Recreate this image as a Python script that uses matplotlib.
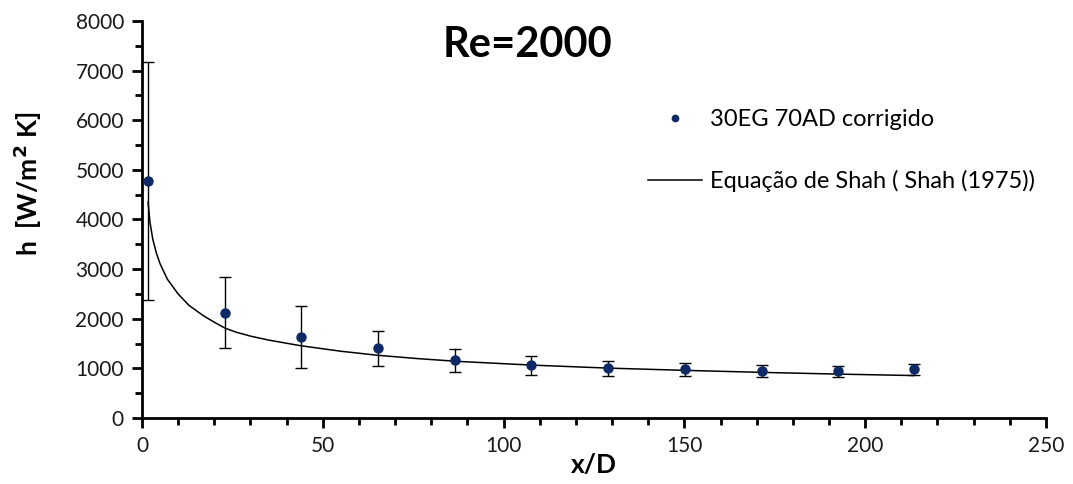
import matplotlib
matplotlib.use("Agg")
import matplotlib.pyplot as plt
from matplotlib.ticker import MultipleLocator

plt.rcParams['font.family'] = ['Lato', 'DejaVu Sans']

# measured points (30EG 70AD corrigido)
x_pts = [1.7, 23.0, 44.0, 65.3, 86.6, 107.6, 129.0, 150.2, 171.4, 192.4, 213.5]
h_pts = [4780, 2120, 1633, 1405, 1169, 1069, 1002, 982, 954, 941, 988]
h_top = [7170, 2845, 2258, 1754, 1397, 1250, 1149, 1102, 1075, 1055, 1095]
h_bot = [2380, 1410, 1008, 1055, 927, 873, 840, 853, 827, 821, 873]

# Shah (1975) curve
x_shah = [1.7, 2.2, 3.0, 4.0, 5.0, 7.0, 10.0, 13.0, 17.0, 20.0, 23.0, 26.0, 30.0,
          35.0, 44.0, 55.0, 65.0, 76.0, 87.0, 108.0, 129.0, 150.0, 171.0, 192.0, 213.5]
h_shah = [4350, 3950, 3600, 3320, 3110, 2800, 2500, 2270, 2060, 1930, 1810, 1730, 1650,
          1570, 1455, 1345, 1265, 1198, 1142, 1065, 1005, 960, 920, 885, 855]

err_lo = [h - b for h, b in zip(h_pts, h_bot)]
err_hi = [t - h for h, t in zip(h_pts, h_top)]

fig = plt.figure(figsize=(10.73, 4.84), dpi=100)
ax = fig.add_axes([0.1323, 0.1364, 0.8425, 0.8202])

ax.errorbar(x_pts, h_pts, yerr=[err_lo, err_hi], fmt='none', ecolor='black',
            elinewidth=1.0, capsize=4.5, capthick=1.0, zorder=2)
pts, = ax.plot(x_pts, h_pts, 'o', color='#0d2a66', markersize=6.5, zorder=3,
               label='30EG 70AD corrigido')
ln, = ax.plot(x_shah, h_shah, '-', color='black', lw=1.1, zorder=1,
              label='Equação de Shah ( Shah (1975))')

ax.set_xlim(0, 250)
ax.set_ylim(0, 8000)
ax.xaxis.set_major_locator(MultipleLocator(50))
ax.xaxis.set_minor_locator(MultipleLocator(10))
ax.yaxis.set_major_locator(MultipleLocator(1000))
ax.yaxis.set_minor_locator(MultipleLocator(500))

for s in ['top', 'right']:
    ax.spines[s].set_visible(False)
for s in ['left', 'bottom']:
    ax.spines[s].set_linewidth(2)

ax.tick_params(axis='both', which='major', direction='out', length=7, width=2,
               labelsize=15, pad=6, labelcolor='#1a1a1a')
ax.tick_params(axis='both', which='minor', direction='out', length=5, width=2)

ax.set_xlabel('x/D', fontsize=19, fontweight='bold')
ax.set_ylabel('h  [W/m$^\\mathbf{2}$ K]', fontsize=19, fontweight='bold')
ax.xaxis.set_label_coords(0.5, -0.088)
ax.yaxis.set_label_coords(-0.108, 0.59)

ax.text(0.427, 0.94, 'Re=2000', transform=ax.transAxes, ha='center', va='center',
        fontsize=30, fontweight='bold')

ax.legend(handles=[pts, ln], loc='upper left', bbox_to_anchor=(0.584, 0.818),
          bbox_transform=fig.transFigure, frameon=False, fontsize=17,
          labelspacing=1.68, handlelength=2.3, handletextpad=0.35, markerscale=0.7)

fig.savefig('out.png', dpi=100)
